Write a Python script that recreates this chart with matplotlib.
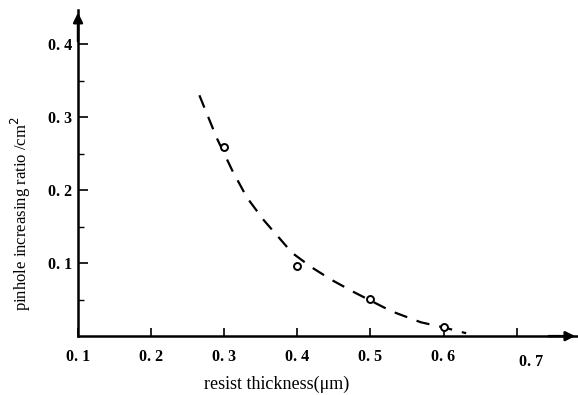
import matplotlib
matplotlib.use("Agg")
import matplotlib.pyplot as plt
import matplotlib.transforms as mtransforms

# measured points
thickness = [0.3, 0.4, 0.5, 0.6]
ratio = [0.259, 0.096, 0.051, 0.012]

# dashed trend curve
curve_x = [0.266, 0.290, 0.311, 0.331, 0.354, 0.393, 0.420, 0.447, 0.478, 0.529, 0.569, 0.600, 0.631]
curve_y = [0.330, 0.271, 0.227, 0.190, 0.159, 0.114, 0.094, 0.077, 0.060, 0.034, 0.019, 0.012, 0.004]

xticks = [0.1, 0.2, 0.3, 0.4, 0.5, 0.6, 0.7]
xticklabels = ["0. 1", "0. 2", "0. 3", "0. 4", "0. 5", "0. 6", "0. 7"]
yticks = [0.1, 0.2, 0.3, 0.4]
yticklabels = ["0. 1", "0. 2", "0. 3", "0. 4"]
yminor = [0.05, 0.15, 0.25, 0.35]

plt.rcParams['font.family'] = ['Liberation Serif', 'DejaVu Serif']

fig = plt.figure(figsize=(5.78, 3.95), dpi=100)
ax = fig.add_axes([0.135, 0.149, 0.865, 0.826])
ax.set_xlim(0.1, 0.784)
ax.set_ylim(0, 0.447)

for s in ['top', 'right']:
    ax.spines[s].set_visible(False)
for s in ['left', 'bottom']:
    ax.spines[s].set_linewidth(1.8)

ax.plot(curve_x, curve_y, color='black', lw=1.6, linestyle=(0, (6, 4.5)), clip_on=False)
ax.plot(thickness, ratio, linestyle='none', marker='o', markersize=5,
        markerfacecolor='white', markeredgecolor='black', markeredgewidth=1.4, zorder=3)

ax.set_xticks(xticks)
ax.set_xticklabels(xticklabels, fontsize=11.5, fontweight='bold')
ax.set_yticks(yticks)
ax.set_yticklabels(yticklabels, fontsize=11.5, fontweight='bold')
ax.set_yticks(yminor, minor=True)
ax.tick_params(axis='y', which='major', direction='in', length=7, width=1.2, pad=4)
ax.tick_params(axis='y', which='minor', direction='in', length=4, width=1.0)
ax.tick_params(axis='x', which='major', direction='in', length=6, width=1.2, pad=9)

# shift 0.7 label slightly right and down as in original
lab = ax.get_xticklabels()[-1]
lab.set_transform(lab.get_transform() + mtransforms.ScaledTranslation(0.14, -0.05, fig.dpi_scale_trans))

# arrows at axis ends
ax.annotate('', xy=(0.1, 0.447), xytext=(0.1, 0.40),
            arrowprops=dict(arrowstyle='-|>', color='black', lw=1.8, mutation_scale=14),
            annotation_clip=False)
ax.annotate('', xy=(0.784, 0), xytext=(0.74, 0),
            arrowprops=dict(arrowstyle='-|>', color='black', lw=1.8, mutation_scale=14),
            annotation_clip=False)

fig.text(0.478, 0.028, "resist thickness(\u03bcm)", fontsize=13, ha='center', va='center')
fig.text(0.037, 0.46, "pinhole increasing ratio /cm$^2$", fontsize=12, rotation=90,
         ha='center', va='center')

fig.savefig("out.png", dpi=100)
